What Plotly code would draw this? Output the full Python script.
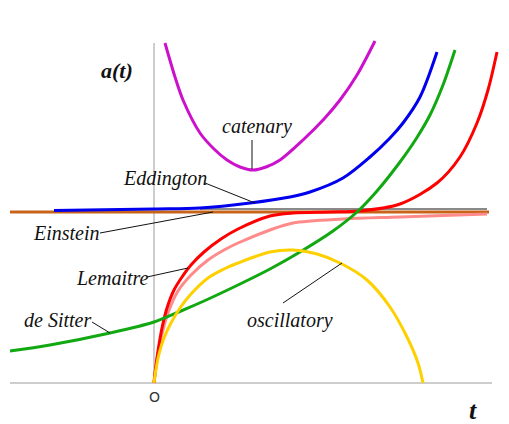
import plotly.graph_objects as go

# Scale factor a(t) for the classic Friedmann–Lemaitre model families
red_t = [0, 0.01, 0.04, 0.08, 0.13, 0.20, 0.28, 0.37, 0.50, 0.67, 0.84, 1.16, 1.39, 1.76, 2.06, 2.46, 2.83, 3.06, 3.23, 3.34, 3.43]
red_a = [0, 0.10, 0.32, 0.55, 0.75, 0.93, 1.06, 1.18, 1.31, 1.44, 1.54, 1.67, 1.70, 1.71, 1.72, 1.79, 2.00, 2.26, 2.60, 2.93, 3.31]

pink_t = [0, 0.03, 0.07, 0.14, 0.24, 0.37, 0.54, 0.70, 0.84, 1.16, 1.39, 1.89, 2.46, 3.33]
pink_a = [0, 0.23, 0.45, 0.70, 0.92, 1.08, 1.23, 1.33, 1.40, 1.53, 1.60, 1.64, 1.66, 1.69]

osc_t = [0, 0.02, 0.05, 0.10, 0.17, 0.26, 0.37, 0.54, 0.70, 0.84, 1.16, 1.39, 1.63, 1.86, 2.13, 2.36, 2.53, 2.64, 2.69]
osc_a = [0, 0.14, 0.29, 0.45, 0.60, 0.75, 0.89, 1.05, 1.14, 1.20, 1.31, 1.33, 1.29, 1.20, 1.03, 0.76, 0.46, 0.20, 0]

desitter_t = [-1.44, -1.04, -0.44, 0, 0.27, 0.50, 0.84, 1.16, 1.46, 1.79, 2.03, 2.23, 2.46, 2.62, 2.76, 2.89, 3.01]
desitter_a = [0.32, 0.38, 0.50, 0.61, 0.72, 0.82, 0.98, 1.14, 1.31, 1.52, 1.71, 1.92, 2.21, 2.44, 2.68, 2.98, 3.33]

eddington_t = [-1.00, 0.0, 0.46, 0.96, 1.36, 1.56, 1.89, 2.16, 2.36, 2.49, 2.66, 2.83]
eddington_a = [1.725, 1.74, 1.75, 1.80, 1.86, 1.91, 2.05, 2.26, 2.45, 2.60, 2.86, 3.31]

catenary_t = [0.11, 0.21, 0.29, 0.46, 0.60, 0.73, 0.86, 0.99, 1.12, 1.26, 1.49, 1.70, 1.86, 2.03, 2.21]
catenary_a = [3.40, 3.06, 2.83, 2.50, 2.34, 2.23, 2.16, 2.13, 2.16, 2.23, 2.43, 2.64, 2.83, 3.08, 3.42]

einstein_t = [-1.44, 3.35]
einstein_a = [1.71, 1.71]

asymptote_t = [0.46, 3.33]
asymptote_a = [1.74, 1.74]

fig = go.Figure()

def curve(t, a, color, width=3, shape="spline"):
    fig.add_trace(go.Scatter(
        x=t, y=a, mode="lines",
        line=dict(color=color, width=width, shape=shape, smoothing=0.9),
        hoverinfo="skip", showlegend=False,
    ))

# Axes drawn as light grey lines through the origin
fig.add_shape(type="line", x0=0, y0=0, x1=0, y1=3.40, line=dict(color="#bdbdbd", width=1.5), layer="below")
fig.add_shape(type="line", x0=-1.44, y0=0, x1=3.38, y1=0, line=dict(color="#bdbdbd", width=1.5), layer="below")

curve(einstein_t, einstein_a, "#c8641a", 3, "linear")
curve(asymptote_t, asymptote_a, "#8a8a8a", 2, "linear")
curve(eddington_t, eddington_a, "#0000ee")
curve(pink_t, pink_a, "#ff8a8a")
curve(red_t, red_a, "#ff0000")
curve(desitter_t, desitter_a, "#12a812")
curve(osc_t, osc_a, "#ffd000")
curve(catenary_t, catenary_a, "#cc11cc")

# Leader lines from labels to curves
leaders = [
    (0.98, 2.43, 0.98, 2.14),     # catenary
    (0.51, 2.00, 1.01, 1.80),     # Eddington
    (-0.54, 1.50, 0.59, 1.71),    # Einstein
    (-0.07, 1.06, 0.34, 1.15),    # Lemaitre
    (-0.62, 0.61, -0.44, 0.50),   # de Sitter
    (1.29, 0.80, 1.88, 1.20),     # oscillatory
]
for x0, y0, x1, y1 in leaders:
    fig.add_shape(type="line", x0=x0, y0=y0, x1=x1, y1=y1, line=dict(color="#111111", width=1))

serif = "Liberation Serif"
labels = [
    (1.03, 2.57, "catenary"),
    (0.11, 2.05, "Eddington"),
    (-0.88, 1.50, "Einstein"),
    (-0.42, 1.05, "Lemaitre"),
    (-0.97, 0.63, "de Sitter"),
    (1.36, 0.63, "oscillatory"),
]
for x, y, txt in labels:
    fig.add_annotation(x=x, y=y, text=f"<i>{txt}</i>", showarrow=False,
                       font=dict(family=serif, size=20, color="#111111"),
                       xanchor="center", yanchor="middle")

fig.add_annotation(x=-0.37, y=3.13, text="<b><i>a(t)</i></b>", showarrow=False,
                   font=dict(family=serif, size=22, color="#111111"), xanchor="center", yanchor="middle")
fig.add_annotation(x=3.19, y=-0.27, text="<b><i>t</i></b>", showarrow=False,
                   font=dict(family=serif, size=26, color="#111111"), xanchor="center", yanchor="middle")
fig.add_annotation(x=0, y=-0.14, text="O", showarrow=False,
                   font=dict(family="DejaVu Sans", size=14, color="#333333"), xanchor="center", yanchor="middle")

fig.update_layout(
    width=509, height=424,
    margin=dict(l=0, r=0, t=0, b=0),
    paper_bgcolor="white", plot_bgcolor="white",
    xaxis=dict(range=[-1.54, 3.55], visible=False, fixedrange=True),
    yaxis=dict(range=[-0.41, 3.83], visible=False, fixedrange=True),
)

fig.write_html("out.html")
